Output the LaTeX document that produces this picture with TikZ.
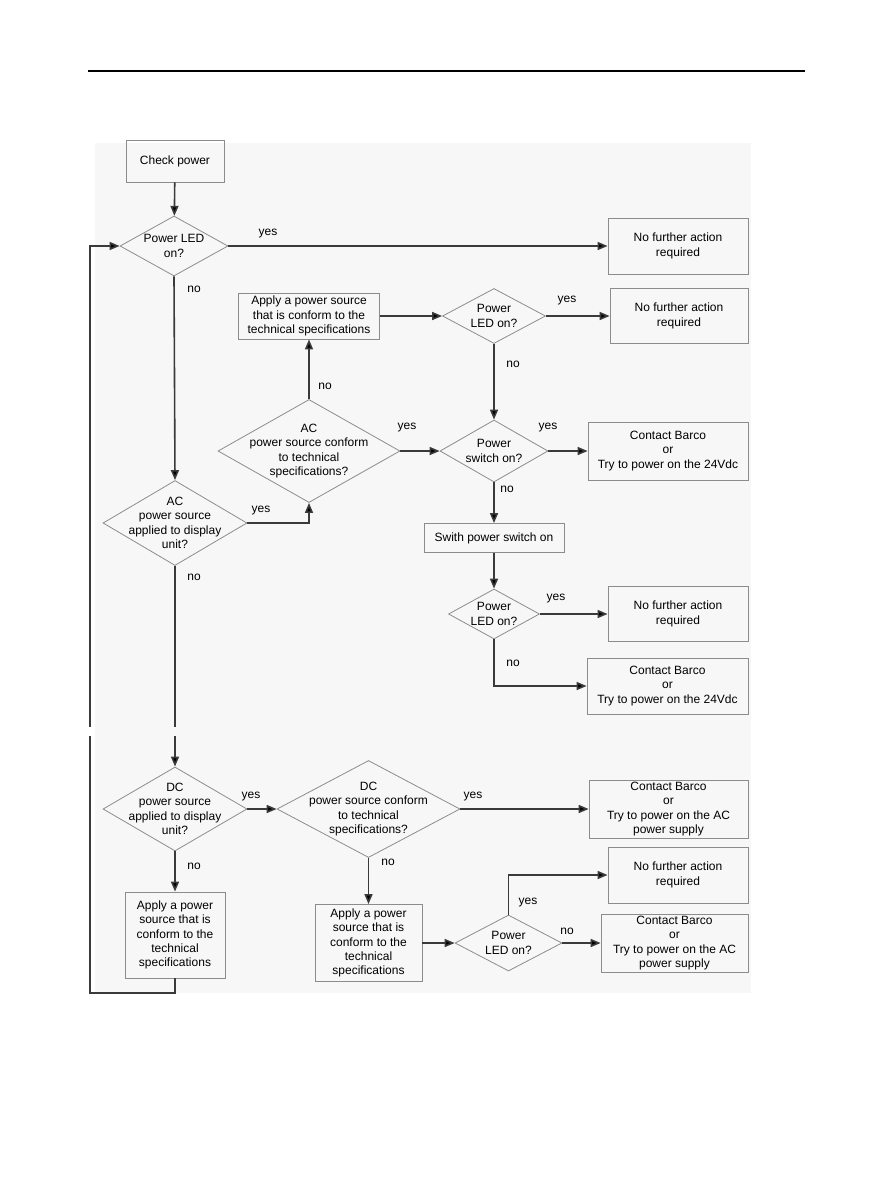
\documentclass[tikz,border=0pt]{standalone}
\usepackage{fontspec}
\setmainfont{Liberation Sans}
\usepackage{xcolor}
\usetikzlibrary{shapes.geometric,arrows.meta}

\definecolor{edgegray}{HTML}{8C8C8C}
\definecolor{linegray}{HTML}{3A3A3A}

\tikzset{
  box/.style 2 args={rectangle, draw=edgegray, line width=0.8pt, align=center,
    inner sep=1pt, minimum width=#1, minimum height=#2},
  decision/.style 2 args={diamond, draw=edgegray, line width=0.8pt, inner sep=0pt,
    minimum width=#1, minimum height=#2},
  dtext/.style={align=center},
  lbl/.style={inner sep=0pt},
  flow/.style={draw=linegray, line width=1.6pt,
    -{Triangle[length=10pt,width=8pt,fill=black]}},
  plain/.style={draw=linegray, line width=1.6pt}
}

\begin{document}
\begin{tikzpicture}[x=1pt,y=-1pt,font=\fontsize{12}{14.3}\selectfont]
  \useasboundingbox (0,0) rectangle (893,1187);
  % page rule and faint panel
  \draw[line width=2.5pt] (88,71) -- (805,71);
  \fill[black!3] (95,143) rectangle (751,993);

  % AC branch
  \node[box={98}{42}] (check) at (175,161) {Check power};
  \node[decision={108}{60}, label={[dtext]center:{Power LED\\on?}}] (led1) at (174,246) {};
  \node[box={140}{56}] (done1) at (678,246) {No further action\\required};
  \node[decision={144}{85}, label={[dtext]center:{AC\\power source\\applied to display\\unit?}}] (acapp) at (175,523) {};
  \node[decision={182}{103}, label={[dtext]center:{AC\\power source conform\\to technical\\specifications?}}] (acok) at (309,451) {};
  \node[box={141}{46}] (apply1) at (309,316) {Apply a power source\\that is conform to the\\technical specifications};
  \node[decision={103}{55}, label={[dtext]center:{Power\\LED on?}}] (led2) at (494,316) {};
  \node[box={138}{55}] (done2) at (679,316) {No further action\\required};
  \node[decision={108}{62}, label={[dtext]center:{Power\\switch on?}}] (switch) at (494,451) {};
  \node[box={160}{58}] (barco1) at (668,451) {Contact Barco\\or\\Try to power on the 24Vdc};
  \node[box={140}{29}] (swon) at (494,538) {Swith power switch on};
  \node[decision={91}{50}, label={[dtext]center:{Power\\LED on?}}] (led3) at (494,614) {};
  \node[box={140}{55}] (done3) at (678,614) {No further action\\required};
  \node[box={161}{56}] (barco2) at (667.5,686) {Contact Barco\\or\\Try to power on the 24Vdc};

  % DC branch
  \node[decision={144}{84}, label={[dtext]center:{DC\\power source\\applied to display\\unit?}}] (dcapp) at (175,809) {};
  \node[decision={183}{97}, label={[dtext]center:{DC\\power source conform\\to technical\\specifications?}}] (dcok) at (368.5,809) {};
  \node[box={159}{58}] (barco3) at (668.5,809) {Contact Barco\\or\\Try to power on the AC\\power supply};
  \node[box={107}{77}] (apply3) at (368.5,943) {Apply a power\\source that is\\conform to the\\technical\\specifications};
  \node[decision={107}{56}, label={[dtext]center:{Power\\LED on?}}] (led4) at (508.5,943) {};
  \node[box={140}{56}] (done4) at (678,875) {No further action\\required};
  \node[box={147}{58}] (barco4) at (674.5,943) {Contact Barco\\or\\Try to power on the AC\\power supply};
  \node[box={100}{86}] (apply2) at (175,935) {Apply a power\\source that is\\conform to the\\technical\\specifications};

  % break in the long lines
  \coordinate (midtop) at (175,727);
  \coordinate (midbot) at (175,736);
  \coordinate (lefttop) at (90,727);
  \coordinate (leftbot) at (90,736);
  \coordinate (loopcorner) at (90,993);

  % connectors
  \draw[flow] (check) -- (led1);
  \draw[flow] (led1.east) -- (done1.west);
  \draw[flow] (led1.south) -- (acapp.north);
  \draw[plain] (acapp.south) -- (midtop);
  \draw[flow] (midbot) -- (dcapp.north);
  \draw[flow] (acapp.east) -| (acok.south);
  \draw[flow] (acok.north) -- (apply1.south);
  \draw[flow] (apply1.east) -- (led2.west);
  \draw[flow] (led2.east) -- (done2.west);
  \draw[flow] (led2.south) -- (switch.north);
  \draw[flow] (acok.east) -- (switch.west);
  \draw[flow] (switch.east) -- (barco1.west);
  \draw[flow] (switch.south) -- (swon.north);
  \draw[flow] (swon.south) -- (led3.north);
  \draw[flow] (led3.east) -- (done3.west);
  \draw[flow] (led3.south) |- (barco2.west);
  \draw[flow] (dcapp.east) -- (dcok.west);
  \draw[flow] (dcok.east) -- (barco3.west);
  \draw[flow] (dcok.south) -- (apply3.north);
  \draw[flow] (apply3.east) -- (led4.west);
  \draw[flow] (led4.north) |- (done4.west);
  \draw[flow] (led4.east) -- (barco4.west);
  \draw[flow] (dcapp.south) -- (apply2.north);
  \draw[plain] (apply2.south) |- (loopcorner) -- (leftbot);
  \draw[flow] (lefttop) |- (led1.west);

  % yes / no labels
  \node[lbl] (y1) at (268,234) {yes};
  \node[lbl] (n1) at (194,289) {no};
  \node[lbl] (n2) at (325,386) {no};
  \node[lbl] (y2) at (407,428) {yes};
  \node[lbl] (y3) at (567,301) {yes};
  \node[lbl] (n3) at (513,364) {no};
  \node[lbl] (y4) at (548,428) {yes};
  \node[lbl] (n4) at (507,489) {no};
  \node[lbl] (y5) at (261,511) {yes};
  \node[lbl] (n5) at (194,577) {no};
  \node[lbl] (y6) at (556,599) {yes};
  \node[lbl] (n6) at (513,663) {no};
  \node[lbl] (y7) at (251,797) {yes};
  \node[lbl] (n7) at (194,866) {no};
  \node[lbl] (n8) at (388,862) {no};
  \node[lbl] (y8) at (473,797) {yes};
  \node[lbl] (y9) at (528,903) {yes};
  \node[lbl] (n9) at (567,931) {no};
\end{tikzpicture}
\end{document}
